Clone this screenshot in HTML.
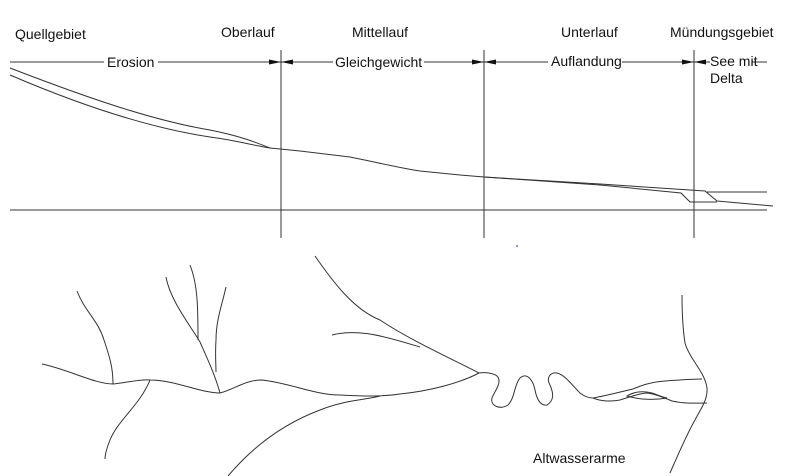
<!DOCTYPE html>
<html><head><meta charset="utf-8"><style>
html,body{margin:0;padding:0;background:#fff;}
svg{display:block;}
text{font-family:"Liberation Sans",Arial,sans-serif;font-size:14px;fill:#111;}
</style></head><body>
<svg width="810" height="476" viewBox="0 0 810 476" xmlns="http://www.w3.org/2000/svg">
<g stroke="#333" stroke-width="1" fill="none">
<line x1="10" y1="62" x2="104" y2="62"/>
<line x1="158" y1="62" x2="333" y2="62"/>
<line x1="424" y1="62" x2="548" y2="62"/>
<line x1="622" y1="62" x2="710" y2="62"/>
<line x1="752" y1="62" x2="767" y2="62"/>
<line x1="281" y1="50" x2="281" y2="238"/>
<line x1="484" y1="50" x2="484" y2="238"/>
<line x1="694" y1="50" x2="694" y2="238"/>
<line x1="10" y1="210" x2="767" y2="210"/>
<path d="M10,68 C80,95 150,120 210,130 C240,136 255,142 270,148"/>
<path d="M10,75 C80,105 150,128 210,137 C240,141 255,146 270,148"/>
<path d="M270,148 L300,151 L350,157 C380,163 400,168 420,171 L460,175 L484,177 L600,184 L705,191 L717,201 L773,206"/>
<path d="M484,177 L600,185 L681,193 L690,202 L717,202"/>
<line x1="707" y1="192" x2="767" y2="192"/>
</g>
<g fill="#111">
<polygon points="281,62 269,59.5 269,64.5"/><polygon points="281,62 293,59.5 293,64.5"/>
<polygon points="484,62 472,59.5 472,64.5"/><polygon points="484,62 496,59.5 496,64.5"/>
<polygon points="694,62 682,59.5 682,64.5"/><polygon points="694,62 706,59.5 706,64.5"/>
</g>
<circle cx="517" cy="246" r="0.8" fill="#00c"/>
<text x="15" y="39">Quellgebiet</text>
<text x="221" y="37">Oberlauf</text>
<text x="352" y="37">Mittellauf</text>
<text x="561" y="37">Unterlauf</text>
<text x="670" y="37">Mündungsgebiet</text>
<text x="107" y="67">Erosion</text>
<text x="335" y="67">Gleichgewicht</text>
<text x="551" y="66">Auflandung</text>
<text x="710" y="66">See mit</text>
<text x="710" y="83">Delta</text>
<text x="533" y="463">Altwasserarme</text>
<g stroke="#333" stroke-width="1" fill="none">
<path d="M42,364 C70,370 95,384 113,384 C125,383 140,379 150,380 C175,380 200,393 220,393 C235,389 245,380 262,380 C290,383 315,395 340,395 C360,396 380,397 400,394 C430,391 460,383 479,373"/>
<path d="M77,291 C85,312 98,320 104,340 C110,358 113,368 113,384"/>
<path d="M150,380 C140,405 118,420 110,440 C106,450 105,455 105,459"/>
<path d="M166,277 C170,300 190,325 200,342 C208,360 215,375 220,393"/>
<path d="M190,265 C198,285 198,310 198,340"/>
<path d="M226,287 C222,305 216,320 216,340 C215,355 216,365 216,372"/>
<path d="M315,256 C335,285 355,310 380,320 C410,340 450,358 479,373"/>
<path d="M332,335 C360,328 390,338 420,347"/>
<path d="M228,476 C250,450 280,425 320,410 C345,400 365,400 380,396"/>
<path d="M479,373 C485,372 493,373 497,376 C503,382 494,392 492,398 C490,406 500,410 508,405 C515,398 514,385 520,378 C527,372 533,380 535,390 C537,400 541,406 547,405 C555,400 553,392 550,385 C546,378 550,372 557,373 C565,375 572,385 580,393 C585,397 590,398 593,398"/>
<path d="M593,398 C605,396 620,392 633,389 C640,386 650,382 665,381 C680,380 692,379 702,379"/>
<path d="M593,398 C600,401 610,402 620,400 C630,397 640,393 647,393 C655,394 665,398 672,401 C685,404 697,403 707,403"/>
<path d="M627,396 C635,391 645,391 652,393 C658,395 662,397 667,398 C655,400 640,400 627,396 Z"/>
<path d="M682,295 C682,315 683,330 685,343 C690,360 705,372 707,388 C708,400 700,410 695,420 C688,432 680,450 670,473"/>
</g>
</svg>
</body></html>
